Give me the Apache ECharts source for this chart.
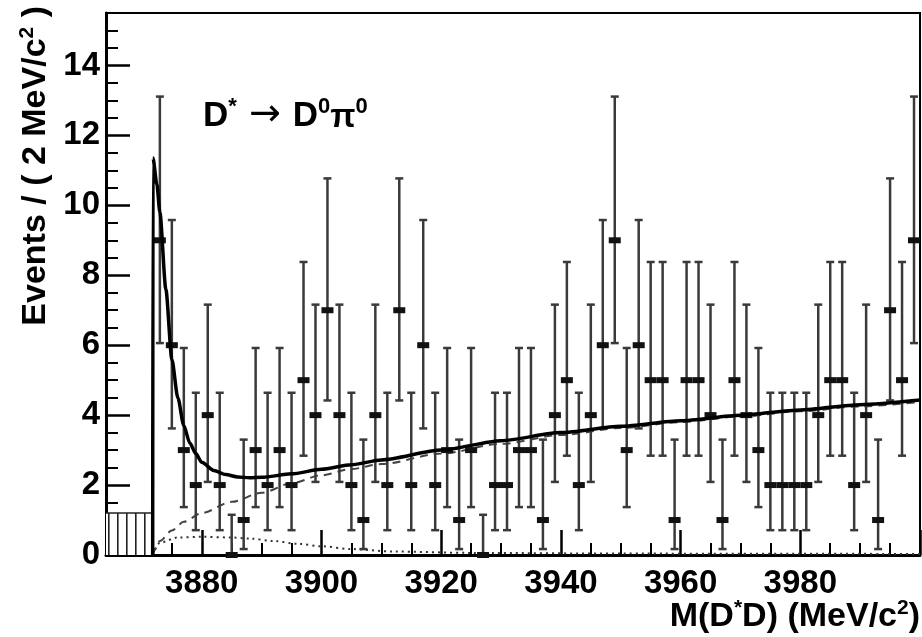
<!DOCTYPE html>
<html><head><meta charset="utf-8">
<script src="https://cdn.jsdelivr.net/npm/echarts@6/dist/echarts.min.js"></script>
<style>html,body{margin:0;padding:0;background:#fff}#c{width:922px;height:637px}</style>
</head><body><div id="c"></div>
<script>
// ---- data ----
const binCenters = [3873,3875,3877,3879,3881,3883,3885,3887,3889,3891,3893,3895,3897,3899,3901,3903,3905,3907,3909,3911,3913,3915,3917,3919,3921,3923,3925,3927,3929,3931,3933,3935,3937,3939,3941,3943,3945,3947,3949,3951,3953,3955,3957,3959,3961,3963,3965,3967,3969,3971,3973,3975,3977,3979,3981,3983,3985,3987,3989,3991,3993,3995,3997,3999];
const counts     = [9,6,3,2,4,2,0,1,3,2,3,2,5,4,7,4,2,1,4,2,7,2,6,2,3,1,3,0,2,2,3,3,1,4,5,2,4,6,9,3,6,5,5,1,5,5,4,1,5,4,3,2,2,2,2,4,5,5,2,4,1,7,5,9];
// error bar ends, indexed by count
const errLowByCount  = [0, 0.17, 0.71, 1.37, 2.09, 2.84, 3.62, 4.42, 5.23, 6.06];
const errHighByCount = [1.15, 3.30, 4.64, 5.92, 7.16, 8.38, 9.58, 10.77, 11.95, 13.11];
// total fit (solid)
const fitX = [3871.8,3871.85,3872.5,3873,3874,3875,3876,3877,3878,3879,3880,3882,3884,3886,3888,3890,3895,3900,3905,3910,3920,3930,3940,3950,3960,3970,3980,3990,4000];
const fitY = [0,11.35,10.6,9.8,7.6,5.6,4.5,3.7,3.2,2.9,2.65,2.42,2.3,2.23,2.21,2.22,2.32,2.45,2.58,2.72,3.0,3.27,3.5,3.68,3.84,4.0,4.15,4.3,4.43];
// background (dashed)
const bkgX = [3871.8,3873,3875,3877,3880,3885,3890,3895,3900,3905,3910,3920,3930,3940,3950,3960,3970,3980,3990,4000];
const bkgY = [0,0.4,0.7,0.95,1.2,1.52,1.78,2.05,2.28,2.46,2.6,2.9,3.18,3.43,3.63,3.8,3.96,4.11,4.25,4.38];
// small component (dotted)
const dotX = [3871.8,3873,3876,3880,3885,3888,3892,3896,3900,3905,3912,3925,3950,4000];
const dotY = [0,0.35,0.5,0.52,0.5,0.47,0.4,0.32,0.25,0.17,0.1,0.06,0.04,0.03];
// hatched region below threshold
const hatchX = [3864, 3871.8];
const hatchY = [1.2, 1.2];
// axes
const xMajorTicks = [3880,3900,3920,3940,3960,3980,4000];
const xTickLabels = [3880,3900,3920,3940,3960,3980];
const xMinorTicks = [3865,3870,3875,3885,3890,3895,3905,3910,3915,3925,3930,3935,3945,3950,3955,3965,3970,3975,3985,3990,3995];
const yMajorTicks = [0,2,4,6,8,10,12,14];
const yMinorTicks = [0.5,1,1.5,2.5,3,3.5,4.5,5,5.5,6.5,7,7.5,8.5,9,9.5,10.5,11,11.5,12.5,13,13.5,14.5,15];

const FONT = '"Liberation Sans", Arial, Helvetica, sans-serif';

const points = binCenters.map((x, i) => [x, counts[i], errLowByCount[counts[i]], errHighByCount[counts[i]]]);

// hatch pattern
const pc = document.createElement('canvas');
pc.width = 9; pc.height = 9;
const pctx = pc.getContext('2d');
pctx.fillStyle = '#fff'; pctx.fillRect(0,0,9,9);
pctx.fillStyle = '#222'; pctx.fillRect(0,0,1.6,9);

const chart = echarts.init(document.getElementById('c'), null, {renderer: 'canvas'});
const axisLabelStyle = {color: '#000', fontSize: 33, fontWeight: 'bold', fontFamily: FONT, formatter: v => String(v)};

chart.setOption({
  animation: false,
  backgroundColor: '#fff',
  grid: {left: 106, right: 2, top: 13, bottom: 82, show: true, borderColor: '#000', borderWidth: 2, backgroundColor: 'transparent'},
  xAxis: [
    {type: 'value', min: 3864, max: 4000, position: 'bottom',
     axisLine: {show: true, onZero: false, lineStyle: {color: '#000', width: 3}},
     axisTick: {show: true, inside: true, length: 25, customValues: xMajorTicks, lineStyle: {color: '#000', width: 2.5}},
     axisLabel: Object.assign({show: true, margin: 12, customValues: xTickLabels}, axisLabelStyle),
     splitLine: {show: false}},
    {type: 'value', min: 3864, max: 4000, position: 'bottom',
     axisLine: {show: false},
     axisTick: {show: true, inside: true, length: 12, customValues: xMinorTicks, lineStyle: {color: '#000', width: 2}},
     axisLabel: {show: false}, splitLine: {show: false}}
  ],
  yAxis: [
    {type: 'value', min: 0, max: 15.5, position: 'left',
     axisLine: {show: true, onZero: false, lineStyle: {color: '#000', width: 3}},
     axisTick: {show: true, inside: true, length: 24, customValues: yMajorTicks, lineStyle: {color: '#000', width: 2.5}},
     axisLabel: Object.assign({show: true, margin: 6, customValues: yMajorTicks}, axisLabelStyle),
     splitLine: {show: false}},
    {type: 'value', min: 0, max: 15.5, position: 'left',
     axisLine: {show: false},
     axisTick: {show: true, inside: true, length: 12, customValues: yMinorTicks, lineStyle: {color: '#000', width: 2}},
     axisLabel: {show: false}, splitLine: {show: false}}
  ],
  series: [
    {type: 'line', name: 'hatch', data: hatchX.map((x, i) => [x, hatchY[i]]), symbol: 'none',
     lineStyle: {color: '#222', width: 1.5}, areaStyle: {color: {image: pc, repetition: 'repeat'}, opacity: 1, origin: 'start'}, z: 1},
    {type: 'line', name: 'dotted', data: dotX.map((x, i) => [x, dotY[i]]), symbol: 'none', smooth: 0.3, smoothMonotone: 'x',
     lineStyle: {color: '#333', width: 2, type: [2, 4]}, z: 2},
    {type: 'line', name: 'background', data: bkgX.map((x, i) => [x, bkgY[i]]), symbol: 'none', smooth: 0.3, smoothMonotone: 'x',
     lineStyle: {color: '#444', width: 2, type: [8, 6]}, z: 2},
    {type: 'custom', name: 'data', data: points, z: 4,
     renderItem: function (params, api) {
       const x = api.value(0), y = api.value(1), lo = api.value(2), hi = api.value(3);
       const pT = api.coord([x, hi]), pB = api.coord([x, lo]), pM = api.coord([x, y]);
       const cap = 4, mw = 12, mh = 6;
       const st = {stroke: '#3a3a3a', lineWidth: 2.5};
       return {type: 'group', children: [
         {type: 'line', shape: {x1: pT[0], y1: pT[1], x2: pB[0], y2: pB[1]}, style: st},
         {type: 'line', shape: {x1: pT[0] - cap, y1: pT[1], x2: pT[0] + cap, y2: pT[1]}, style: st},
         {type: 'line', shape: {x1: pB[0] - cap, y1: pB[1], x2: pB[0] + cap, y2: pB[1]}, style: st},
         {type: 'rect', shape: {x: pM[0] - mw / 2, y: pM[1] - mh / 2, width: mw, height: mh}, style: {fill: '#111'}}
       ]};
     }},
    {type: 'line', name: 'fit', data: fitX.map((x, i) => [x, fitY[i]]), symbol: 'none', smooth: 0.25, smoothMonotone: 'x',
     lineStyle: {color: '#000', width: 3.5}, z: 5}
  ],
  graphic: [
    {type: 'text', x: 203, y: 96, z: 10, style: {
      text: '{b|D}{s|*}{a| \u2192 }{b|D}{s|0}{p|\u03c0}{s|0}',
      rich: {
        b: {fontSize: 35, fontWeight: 'bold', fontFamily: FONT, fill: '#000', lineHeight: 38, verticalAlign: 'bottom'},
        a: {fontSize: 38, fontWeight: 'normal', fontFamily: '"DejaVu Sans", sans-serif', fill: '#000', lineHeight: 38, verticalAlign: 'bottom'},
        p: {fontSize: 33, fontWeight: 'bold', fontFamily: FONT, fill: '#000', lineHeight: 38, verticalAlign: 'bottom'},
        s: {fontSize: 22, fontWeight: 'bold', fontFamily: FONT, fill: '#000', lineHeight: 22, verticalAlign: 'top'}
      }}},
    {type: 'text', x: 35, y: 6, rotation: Math.PI / 2, z: 10, style: {
      text: '{b|Events / ( 2 MeV/c}{s|2}{b| )}', align: 'right', verticalAlign: 'middle',
      rich: {
        b: {fontSize: 34, fontWeight: 'bold', fontFamily: FONT, fill: '#000', lineHeight: 36, verticalAlign: 'bottom'},
        s: {fontSize: 21, fontWeight: 'bold', fontFamily: FONT, fill: '#000', lineHeight: 21, verticalAlign: 'top'}
      }}},
    {type: 'text', x: 920, y: 616, z: 10, style: {
      text: '{b|M(D}{s|*}{b|D) (MeV/c}{s|2}{b|)}', align: 'right', verticalAlign: 'middle',
      rich: {
        b: {fontSize: 34, fontWeight: 'bold', fontFamily: FONT, fill: '#000', lineHeight: 36, verticalAlign: 'bottom'},
        s: {fontSize: 21, fontWeight: 'bold', fontFamily: FONT, fill: '#000', lineHeight: 21, verticalAlign: 'top'}
      }}}
  ]
});
</script></body></html>
